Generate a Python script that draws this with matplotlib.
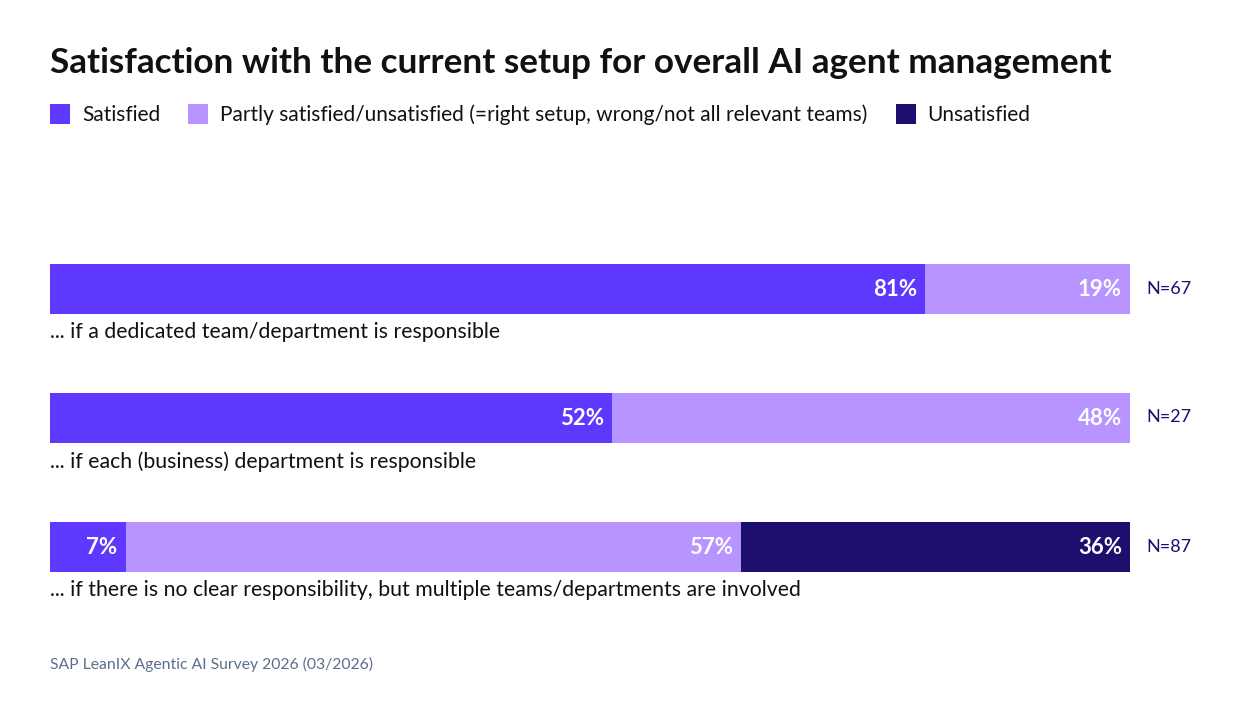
import matplotlib.pyplot as plt
from matplotlib.patches import Rectangle

plt.rcParams['font.family'] = ['Lato', 'DejaVu Sans']

title = "Satisfaction with the current setup for overall AI agent management"
series = ["Satisfied",
          "Partly satisfied/unsatisfied (=right setup, wrong/not all relevant teams)",
          "Unsatisfied"]
colors = ["#5F38FF", "#B794FF", "#1E0E6E"]
categories = ["... if a dedicated team/department is responsible",
              "... if each (business) department is responsible",
              "... if there is no clear responsibility, but multiple teams/departments are involved"]
satisfied = [81, 52, 7]
partly = [19, 48, 57]
unsatisfied = [0, 0, 36]
n_labels = ["N=67", "N=27", "N=87"]
source = "SAP LeanIX Agentic AI Survey 2026 (03/2026)"

W, H = 1240, 720
fig = plt.figure(figsize=(W / 100, H / 100), dpi=100)
fig.patch.set_facecolor("white")

# axes spans bar width horizontally, whole figure vertically (y in pixels)
x0, x1 = 50, 1130
ax = fig.add_axes([x0 / W, 0, (x1 - x0) / W, 1])
ax.set_xlim(0, 100)
ax.set_ylim(H, 0)
ax.axis("off")

ypos = [288.5, 417.5, 546.5]
bar_h = 50
px = 100 / (x1 - x0)  # data units per pixel

left = [0, 0, 0]
for vals, col in zip([satisfied, partly, unsatisfied], colors):
    ax.barh(ypos, vals, left=left, height=bar_h, color=col, linewidth=0)
    for y, v, l in zip(ypos, vals, left):
        if v > 0:
            ax.text(l + v - 8 * px, y + 1, f"{v}%", ha="right", va="center",
                    color="white", fontsize=16, fontweight="bold")
    left = [a + b for a, b in zip(left, vals)]

for y, cat, n in zip(ypos, categories, n_labels):
    ax.text(0, y + 44, cat, ha="left", va="center", fontsize=15.3, color="#111111")
    ax.text(100 + 16 * px, y, n, ha="left", va="center", fontsize=13, color="#1E0E6E")

fig.text(50 / W, 1 - 63 / H, title, ha="left", va="center",
         fontsize=25.3, fontweight="bold", color="#111111")

# legend
lx = 50
for name, col in zip(series, colors):
    fig.patches.append(Rectangle((lx / W, 1 - 124 / H), 20 / W, 20 / H,
                                 transform=fig.transFigure, color=col, linewidth=0))
    t = fig.text((lx + 32) / W, 1 - 115 / H, name, ha="left", va="center",
                 fontsize=15, color="#111111")
    fig.canvas.draw()
    bb = t.get_window_extent()
    lx = bb.x1 + 28

fig.text(50 / W, 1 - 664 / H, source, ha="left", va="center",
         fontsize=11.3, color="#5B6F8C")

fig.savefig("out.png", dpi=100)
